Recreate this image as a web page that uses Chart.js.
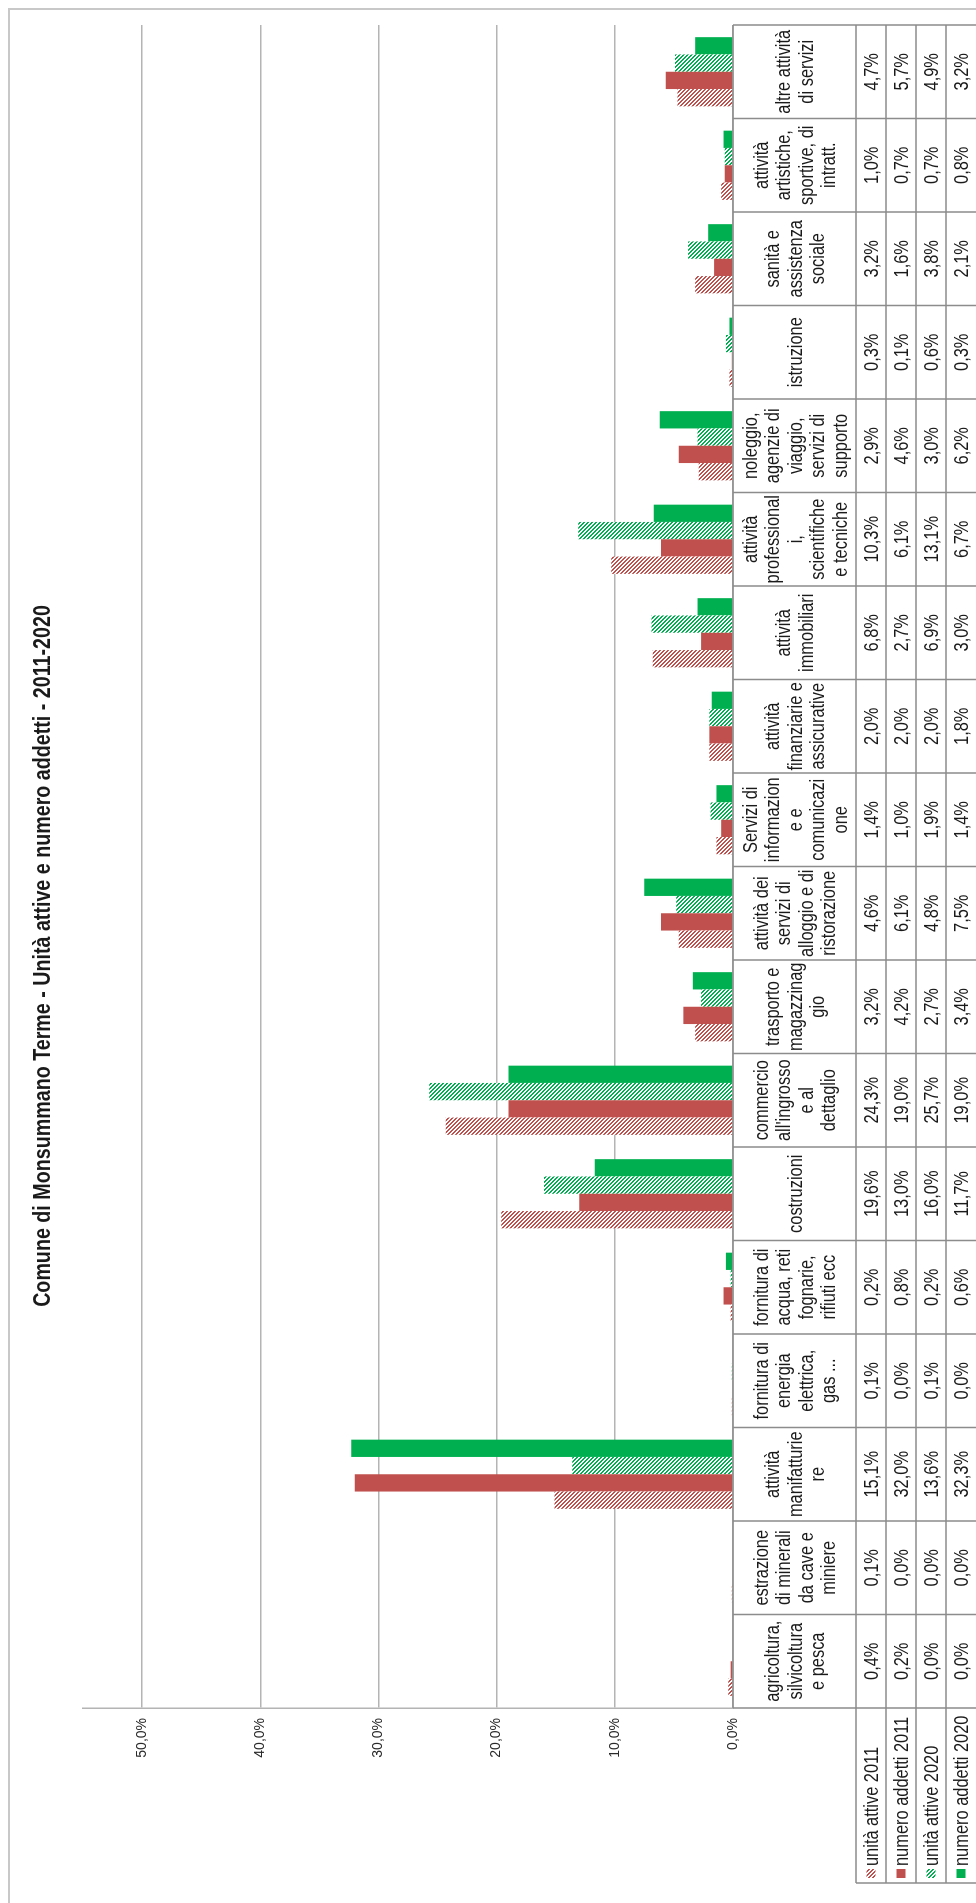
<!DOCTYPE html>
<html lang="it">
<head>
<meta charset="utf-8">
<title>Comune di Monsummano Terme - Unità attive e numero addetti - 2011-2020</title>
<script src="https://cdn.jsdelivr.net/npm/chart.js@4.4.1/dist/chart.umd.min.js"></script>
<style>
  html, body { margin: 0; padding: 0; background: #fff; overflow: hidden; }
  /* the sheet is laid out landscape and turned a quarter to the left */
  #wrap {
    position: absolute; left: 0; top: 0;
    width: 1903px; height: 976px;
    transform-origin: 0 0;
    transform: translateY(1903px) rotate(-90deg);
  }
</style>
</head>
<body>
<div id="wrap"><canvas id="chart" width="1903" height="976"></canvas></div>
<script>
const RED = "#c0504d";
const GREEN = "#00b050";
const TEXT = "#1a1a1a";
const FONT = "'Liberation Sans', Arial, sans-serif";

const title = "Comune di Monsummano Terme - Unità attive e numero addetti - 2011-2020";

// sectors, split in the lines used by the table header
const categories = [
    ["agricoltura,", "silvicoltura", "e pesca"],
    ["estrazione", "di minerali", "da cave e", "miniere"],
    ["attività", "manifatturie", "re"],
    ["fornitura di", "energia", "elettrica,", "gas ..."],
    ["fornitura di", "acqua, reti", "fognarie,", "rifiuti ecc"],
    ["costruzioni"],
    ["commercio", "all'ingrosso", "e al", "dettaglio"],
    ["trasporto e", "magazzinag", "gio"],
    ["attività dei", "servizi di", "alloggio e di", "ristorazione"],
    ["Servizi di", "informazion", "e e", "comunicazi", "one"],
    ["attività", "finanziarie e", "assicurative"],
    ["attività", "immobiliari"],
    ["attività", "professional", "i,", "scientifiche", "e tecniche"],
    ["noleggio,", "agenzie di", "viaggio,", "servizi di", "supporto"],
    ["istruzione"],
    ["sanità e", "assistenza", "sociale"],
    ["attività", "artistiche,", "sportive, di", "intratt."],
    ["altre attività", "di servizi"]
];

const seriesNames = ["unità attive 2011", "numero addetti 2011", "unità attive 2020", "numero addetti 2020"];

// percent shares per sector
const unitaAttive2011   = [0.4, 0.1, 15.1, 0.1, 0.2, 19.6, 24.3, 3.2, 4.6, 1.4, 2.0, 6.8, 10.3, 2.9, 0.3, 3.2, 1.0, 4.7];
const numeroAddetti2011 = [0.2, 0.0, 32.0, 0.0, 0.8, 13.0, 19.0, 4.2, 6.1, 1.0, 2.0, 2.7, 6.1, 4.6, 0.1, 1.6, 0.7, 5.7];
const unitaAttive2020   = [0.0, 0.0, 13.6, 0.1, 0.2, 16.0, 25.7, 2.7, 4.8, 1.9, 2.0, 6.9, 13.1, 3.0, 0.6, 3.8, 0.7, 4.9];
const numeroAddetti2020 = [0.0, 0.0, 32.3, 0.0, 0.6, 11.7, 19.0, 3.4, 7.5, 1.4, 1.8, 3.0, 6.7, 6.2, 0.3, 2.1, 0.8, 3.2];

const valueTicks = [0, 10, 20, 30, 40, 50];

const series = [unitaAttive2011, numeroAddetti2011, unitaAttive2020, numeroAddetti2020];

let canvas = document.getElementById("chart");
let ctx = canvas.getContext("2d");

// diagonal hatch, coloured lines on white
function hatch(color) {
    let tile = document.createElement("canvas");
    tile.width = 4;
    tile.height = 4;
    let g = tile.getContext("2d");
    g.fillStyle = "#fff";
    g.fillRect(0, 0, 4, 4);
    g.fillStyle = color;
    for (let i = 0; i < 4; i++) {
        g.fillRect(i, i, 1, 1);
        g.fillRect((i + 1) % 4, i, 1, 1);
    }
    return ctx.createPattern(tile, "repeat");
}

const fills = [hatch(RED), RED, hatch(GREEN), GREEN];

function pct(v) {
    return v.toFixed(1).replace(".", ",") + "%";
}

// sheet text uses a narrow face: squeeze Liberation Sans horizontally
function narrowText(text, x, y, align, font) {
    ctx.save();
    ctx.font = font;
    ctx.textAlign = align;
    ctx.textBaseline = "middle";
    ctx.fillStyle = TEXT;
    ctx.translate(x, y);
    ctx.scale(0.82, 1);
    ctx.fillText(text, 0, 0);
    ctx.restore();
}

// frame, title and the data table under the plot
const dataTable = {
    id: "dataTable",
    beforeDraw(chart) {
        let c = chart.ctx;
        c.save();
        c.strokeStyle = "#c8c8c8";
        c.lineWidth = 2;
        c.beginPath();
        c.moveTo(0, 9);
        c.lineTo(1894, 9);
        c.lineTo(1894, chart.height);
        c.stroke();
        c.restore();

        narrowText(title, 947, 43, "center", "bold 24px " + FONT);
    },
    afterDraw(chart) {
        let c = chart.ctx;
        let a = chart.chartArea;
        let xs = chart.scales.x;
        let band = (a.right - a.left) / categories.length;
        let headTop = a.bottom;
        let headBottom = headTop + 123;
        let rowH = 30;
        let keyLeft = 20;
        let cellFont = "20px " + FONT;

        c.save();
        c.strokeStyle = "#8c8c8c";
        c.lineWidth = 1.5;
        c.beginPath();
        c.moveTo(a.left, headTop);
        c.lineTo(a.right, headTop);
        for (let r = 0; r < series.length; r++) {
            let y = headBottom + r * rowH;
            c.moveTo(keyLeft, y);
            c.lineTo(a.right, y);
        }
        for (let i = 0; i <= categories.length; i++) {
            let x = a.left + i * band;
            c.moveTo(x, headTop);
            c.lineTo(x, chart.height);
        }
        c.moveTo(keyLeft, headBottom);
        c.lineTo(keyLeft, chart.height);
        c.stroke();
        c.restore();

        categories.forEach((lines, i) => {
            let cx = xs.getPixelForValue(i);
            let y0 = headTop + 63 - (lines.length - 1) * 22.5 / 2;
            lines.forEach((t, k) => narrowText(t, cx, y0 + k * 22.5, "center", cellFont));
            series.forEach((s, r) => {
                narrowText(pct(s[i]), cx, headBottom + r * rowH + rowH / 2 + 1, "center", cellFont);
            });
        });

        seriesNames.forEach((name, r) => {
            let cy = headBottom + r * rowH + rowH / 2;
            c.fillStyle = fills[r];
            c.fillRect(25, cy - 4.5, 9, 9);
            narrowText(name, 37, cy + 1, "left", cellFont);
        });
    }
};

let chart = new Chart(ctx, {
    type: "bar",
    data: {
        labels: categories.map(l => l.join(" ")),
        datasets: seriesNames.map((name, r) => ({
            label: name,
            data: series[r],
            backgroundColor: fills[r],
            borderWidth: 0
        }))
    },
    options: {
        responsive: false,
        animation: false,
        layout: { padding: { top: 83, right: 25, left: 0, bottom: 0 } },
        datasets: { bar: { categoryPercentage: 0.74, barPercentage: 1 } },
        plugins: {
            legend: { display: false },
            title: { display: false },
            tooltip: { enabled: false }
        },
        scales: {
            x: {
                grid: { display: false },
                border: { display: false },
                ticks: { display: false },
                afterFit: s => { s.height = 243; }
            },
            y: {
                min: 0,
                max: 55,
                grid: { color: "#b4b4b4", lineWidth: 1.5, drawTicks: false },
                border: { color: "#b4b4b4", width: 1.5 },
                ticks: {
                    stepSize: 10,
                    padding: 10,
                    color: "#2a2a2a",
                    font: { family: FONT, size: 14 },
                    callback: v => pct(v)
                },
                afterBuildTicks: s => { s.ticks = s.ticks.filter(t => valueTicks.includes(t.value)); },
                afterFit: s => { s.width = 195; }
            }
        }
    },
    plugins: [dataTable]
});
</script>
</body>
</html>
